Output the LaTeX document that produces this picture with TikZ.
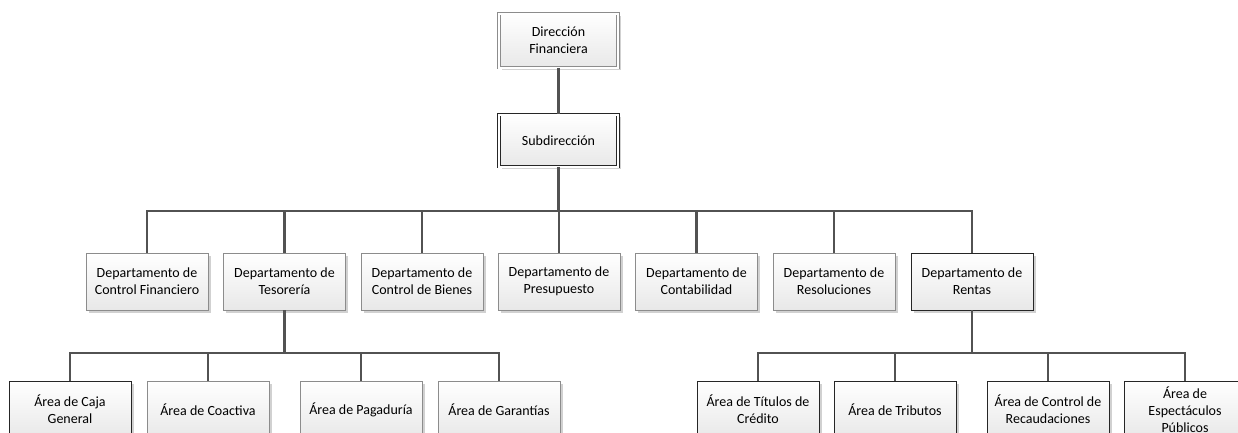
\documentclass[tikz,border=0pt]{standalone}
\usepackage{fontspec}
\setmainfont{Carlito}
\usetikzlibrary{shadows,positioning}

\begin{document}
\begin{tikzpicture}[x=1pt,y=-1pt]
\tikzstyle{block} = [rectangle, draw=black!45, line width=0.8pt,
top color=white, bottom color=black!9, minimum width=122pt, minimum height=57pt,
align=center, font=\fontsize{14}{17}\selectfont, inner sep=2pt,
drop shadow={shadow xshift=2.5pt, shadow yshift=-2.5pt, fill=black!30, opacity=0.6}]
\tikzstyle{block_dark} = [block, draw=black!85]
\tikzstyle{head} = [block, minimum width=119pt, double=white, double distance=2pt]
\tikzstyle{line} = [draw, line width=2.2pt, color=black!68];
\useasboundingbox (0,0) rectangle (1238,432);
% top
\node [head, draw=black!45, minimum height=54pt] (dir) at (558.5,40.5) {Dirección\\Financiera};
\node [head, draw=black!85, minimum height=52pt] (sub) at (558.5,140.5) {Subdirección};
% departamentos
\node [block] (cfin) at (147,281.5) {Departamento de\\Control Financiero};
\node [block] (teso) at (284.5,281.5) {Departamento de\\Tesorería};
\node [block] (cbie) at (422,281.5) {Departamento de\\Control de Bienes};
\node [block] (pres) at (559,281.5) {Departamento de\\Presupuesto};
\node [block] (cont) at (696.5,281.5) {Departamento de\\Contabilidad};
\node [block] (reso) at (834,281.5) {Departamento de\\Resoluciones};
\node [block_dark] (rent) at (972,281.5) {Departamento de\\Rentas};
% areas de tesoreria
\node [block_dark] (caja) at (70,409.5) {Área de Caja\\General};
\node [block] (coac) at (208,409.5) {Área de Coactiva};
\node [block] (paga) at (361,409.5) {Área de Pagaduría};
\node [block] (gara) at (499,409.5) {Área de Garantías};
% areas de rentas
\node [block_dark] (titu) at (758,409.5) {Área de Títulos de\\Crédito};
\node [block_dark] (trib) at (895,409.5) {Área de Tributos};
\node [block_dark] (reca) at (1048,409.5) {Área de Control de\\Recaudaciones};
\node [block_dark] (espe) at (1185,409.5) {Área de\\Espectáculos\\Públicos};
\coordinate (bus) at (558.5,211);
\coordinate (tbus) at (284.5,353);
\coordinate (rbus) at (972,353);
\tikzstyle{every path}=[line]
\path (dir) -- (sub);
\path (sub) -- (bus);
\foreach \d in {cfin,teso,cbie,pres,cont,reso,rent}
  \path (bus) -| (\d);
\path (teso) -- (tbus);
\foreach \a in {caja,coac,paga,gara}
  \path (tbus) -| (\a);
\path (rent) -- (rbus);
\foreach \a in {titu,trib,reca,espe}
  \path (rbus) -| (\a);
\end{tikzpicture}
\end{document}
